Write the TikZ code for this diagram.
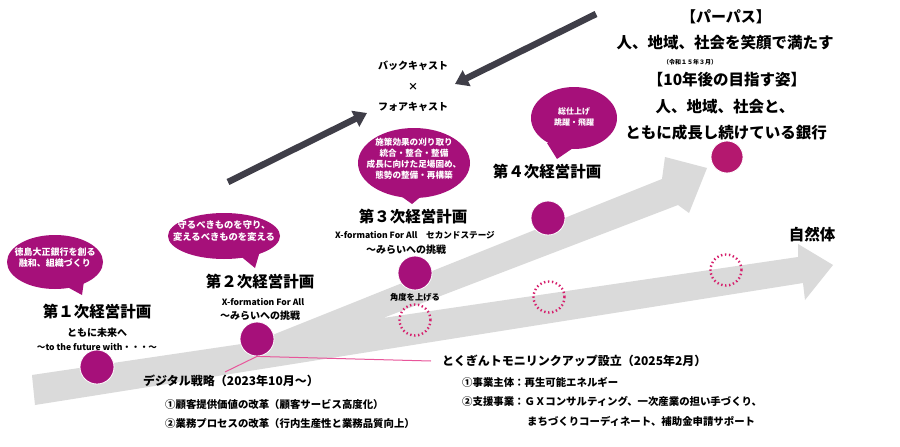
\documentclass[tikz,border=0pt]{standalone}
\usepackage{fontspec}
\setmainfont{Noto Sans CJK JP}
\usetikzlibrary{arrows.meta}
\definecolor{mag}{HTML}{A6107A}
\definecolor{magtop}{HTML}{B4186F}
\definecolor{dotpink}{HTML}{D61F6C}
\definecolor{linkpink}{HTML}{E8559A}
\definecolor{bandgray}{HTML}{DADADA}
\definecolor{darkarrow}{HTML}{3F3E48}
\tikzset{
  fs/.style={font=\fontsize{#1}{#1}\selectfont\bfseries},
  txt/.style={inner sep=0pt, text=black},
  plan/.style={txt, font=\fontsize{15.5}{16}\selectfont\bfseries},
  bigt/.style={txt, font=\fontsize{15.5}{16}\selectfont\bfseries},
  bodyt/.style={txt, anchor=west, font=\fontsize{10.4}{11}\selectfont\bfseries},
  btxt/.style={inner sep=0pt, text=white, align=center},
  dotnode/.style={circle, fill=mag, draw=white, line width=0.8pt, minimum size=34pt, inner sep=0pt},
  ring/.style={circle, draw=dotpink, line width=2.4pt, dash pattern=on 1.4pt off 2.6pt, minimum size=31pt, inner sep=0pt},
  bubble/.style={fill=mag},
  bigarrow/.style={draw=darkarrow, line width=6.5pt, -{Triangle[width=17pt,length=13pt]}},
  link/.style={draw=linkpink, line width=1pt}
}
\begin{document}
\begin{tikzpicture}[x=1pt,y=-1pt]
\useasboundingbox (0,0) rectangle (900,447);
\fill[white] (0,0) rectangle (900,447);

% grey band with two arrows
\fill[bandgray] (35,405) -- (32,375) -- (255,342) -- (662,179) -- (665,157) -- (707,168)
  -- (689,213) -- (678,205) -- (383,318) -- (798,257) -- (798,244) -- (833,265)
  -- (805,300) -- (803,283) -- cycle;

% dark arrows
\coordinate (fa1) at (228,182);
\coordinate (fa2) at (367,113);
\coordinate (ba1) at (596,14);
\coordinate (ba2) at (455,84);
\draw[bigarrow] (fa1) -- (fa2);
\draw[bigarrow] (ba1) -- (ba2);

\node[txt, fs=10] (back) at (413,66) {バックキャスト};
\node[txt, fs=10] (cross) at (413,87) {×};
\node[txt, fs=10] (fore) at (413,107) {フォアキャスト};

% bubbles
\fill[bubble] (55,262) ellipse [x radius=48, y radius=27];
\fill[bubble] (60,283) -- (82,295) -- (84,281) -- cycle;
\node[btxt, font=\fontsize{9}{11}\selectfont\bfseries] (b1) at (55,258) {徳島大正銀行を創る\\融和、組織づくり};

\fill[bubble] (224,236) ellipse [x radius=56, y radius=23];
\fill[bubble] (238,254) -- (255,268) -- (260,251) -- cycle;
\node[btxt, font=\fontsize{9.3}{12}\selectfont\bfseries] (b2) at (224,231) {守るべきものを守り、\\変えるべきものを変える};

\fill[bubble] (414,163) ellipse [x radius=56, y radius=35];
\fill[bubble] (398,194) -- (412,204) -- (424,194) -- cycle;
\node[btxt, font=\fontsize{8.6}{11}\selectfont\bfseries] (b3) at (414,159) {施策効果の刈り取り\\統合・整合・整備\\成長に向けた足場固め、\\態勢の整備・再構築};

\fill[bubble] (574,118) ellipse [x radius=43, y radius=31];
\fill[bubble] (547,143) -- (557,159) -- (576,146) -- cycle;
\node[btxt, font=\fontsize{8}{11}\selectfont\bfseries] (b4) at (574,117) {総仕上げ\\跳躍・飛躍};

% milestone circles
\node[dotnode] (c1) at (97,367) {};
\node[dotnode] (c2) at (257,339) {};
\node[dotnode] (c3) at (415,273) {};
\node[dotnode] (c4) at (548,218) {};
\node[dotnode, fill=magtop, minimum size=32pt] (c5) at (727,157) {};

% dotted rings
\node[ring] (r1) at (415,320) {};
\node[ring] (r2) at (549,297) {};
\node[ring] (r3) at (726,270) {};

% plan labels
\node[plan] (p1) at (97,312) {第１次経営計画};
\node[txt, fs=10] (p1a) at (97,333) {ともに未来へ};
\node[txt, fs=8.6] (p1b) at (97,347) {～to the future with・・・～};

\node[plan] (p2) at (260,282) {第２次経営計画};
\node[txt, fs=8.6] (p2a) at (263,302) {X-formation For All};
\node[txt, fs=10] (p2b) at (260,316) {～みらいへの挑戦};

\node[plan] (p3) at (413,217) {第３次経営計画};
\node[txt, fs=8.6] (p3a) at (415,235) {X-formation For All　セカンドステージ};
\node[txt, fs=10] (p3b) at (406,250) {～みらいへの挑戦};
\node[txt, fs=8.3] (ang) at (415,297) {角度を上げる};

\node[plan] (p4) at (547,172) {第４次経営計画};
\node[plan] (nat) at (812,235) {自然体};

% purpose / vision
\node[txt, fs=15] (pp) at (726,17) {【パーパス】};
\node[bigt] (pp1) at (725,43) {人、地域、社会を笑顔で満たす};
\node[txt, fs=6] (rw) at (690,62) {（令和１５年３月）};
\node[bigt] (vs) at (727,80) {【10年後の目指す姿】};
\node[bigt] (vs1) at (725,107) {人、地域、社会と、};
\node[bigt] (vs2) at (726,133) {ともに成長し続けている銀行};

% bottom texts
\node[txt, anchor=west, fs=12] (dg) at (143,381) {デジタル戦略（2023年10月～）};
\node[bodyt] (dg1) at (165,404) {①顧客提供価値の改革（顧客サービス高度化）};
\node[bodyt] (dg2) at (165,424) {②業務プロセスの改革（行内生産性と業務品質向上）};

\node[txt, anchor=west, fs=12] (tl) at (442,361) {とくぎんトモニリンクアップ設立（2025年2月）};
\node[bodyt] (tl1) at (462,382) {①事業主体：再生可能エネルギー};
\node[bodyt] (tl2) at (462,401) {②支援事業：ＧＸコンサルティング、一次産業の担い手づくり、};
\node[bodyt] (tl3) at (527,421) {まちづくりコーディネート、補助金申請サポート};

% pink link lines
\coordinate (dgend) at (225,372);
\coordinate (tlend) at (431,361);
\draw[link] (c2.south) -- (dgend);
\draw[link] (c2.south) -- (tlend);
\end{tikzpicture}
\end{document}
